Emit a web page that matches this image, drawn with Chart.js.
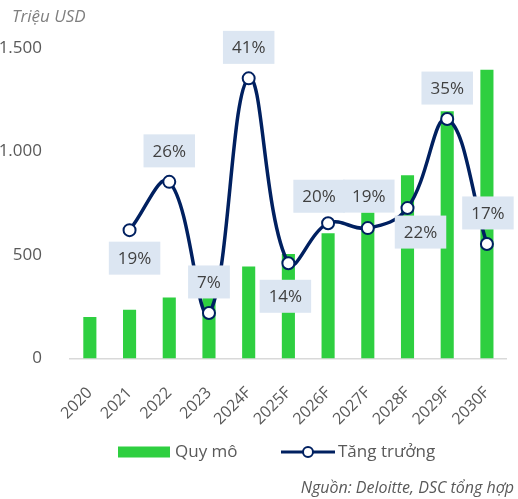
<!DOCTYPE html>
<html>
<head>
<meta charset="utf-8">
<script src="https://cdn.jsdelivr.net/npm/chart.js@4.4.1/dist/chart.umd.min.js"></script>
<style>
  html, body { margin: 0; padding: 0; background: #fff; }
  #wrap { position: relative; width: 518px; height: 499px; }
</style>
</head>
<body>
<div id="wrap"><canvas id="chart"></canvas></div>
<script>
// data
var years = ['2020', '2021', '2022', '2023', '2024F', '2025F', '2026F', '2027F', '2028F', '2029F', '2030F'];
var quyMo = [200, 235, 295, 305, 445, 505, 605, 705, 885, 1195, 1395];
var tangTruong = [null, 18.6, 25.6, 6.6, 40.6, 13.8, 19.6, 18.9, 21.8, 34.7, 16.6];
var yTicks = [0, 500, 1000, 1500];

// where each growth label box sits, relative to its point
var labelOffset = [null, [5, 28], [0, -31], [0, -31], [0, -31], [-3, 33], [-9, -27], [1, -32], [13, 24], [0, -31], [1, -31]];

var GREEN = '#2ecf40';
var NAVY = '#002060';
var FONT = "'Open Sans', sans-serif";

function fmt(v) {
  return String(v).replace(/\B(?=(\d{3})+(?!\d))/g, '.');
}

var extras = {
  id: 'extras',
  afterDatasetsDraw: function (chart) {
    var ctx = chart.ctx;
    var meta = chart.getDatasetMeta(1);
    ctx.save();
    ctx.font = '17px ' + FONT;
    ctx.textAlign = 'center';
    ctx.textBaseline = 'middle';
    meta.data.forEach(function (pt, i) {
      if (tangTruong[i] == null) return;
      var txt = Math.round(tangTruong[i]) + '%';
      var w = ctx.measureText(txt).width + 18;
      var h = 33;
      var cx = pt.x + labelOffset[i][0];
      var cy = pt.y + labelOffset[i][1];
      ctx.fillStyle = '#dce6f2';
      ctx.fillRect(cx - w / 2, cy - h / 2, w, h);
      ctx.fillStyle = '#404040';
      ctx.fillText(txt, cx, cy + 1);
    });
    ctx.restore();
  },
  afterDraw: function (chart) {
    var ctx = chart.ctx;
    ctx.save();
    // unit
    ctx.font = 'italic 17px ' + FONT;
    ctx.fillStyle = '#7f7f7f';
    ctx.textAlign = 'left';
    ctx.textBaseline = 'middle';
    ctx.fillText('Triệu USD', 12, 17);

    // legend
    var ly = 452;
    ctx.fillStyle = GREEN;
    ctx.fillRect(118, ly - 5.5, 52, 11);
    ctx.strokeStyle = NAVY;
    ctx.lineWidth = 3;
    ctx.beginPath();
    ctx.moveTo(281, ly);
    ctx.lineTo(335, ly);
    ctx.stroke();
    ctx.beginPath();
    ctx.arc(308, ly, 5, 0, Math.PI * 2);
    ctx.fillStyle = '#fff';
    ctx.fill();
    ctx.lineWidth = 2;
    ctx.stroke();
    ctx.font = '17px ' + FONT;
    ctx.fillStyle = '#595959';
    ctx.fillText('Quy mô', 175, ly);
    ctx.fillText('Tăng trưởng', 338, ly);

    // source
    ctx.font = 'italic 16px ' + FONT;
    ctx.textAlign = 'right';
    ctx.fillText('Nguồn: Deloitte, DSC tổng hợp', 514, 488);
    ctx.restore();
  }
};

new Chart(document.getElementById('chart'), {
  type: 'bar',
  data: {
    labels: years,
    datasets: [{
      type: 'bar',
      label: 'Quy mô',
      data: quyMo,
      backgroundColor: GREEN,
      categoryPercentage: 1,
      barPercentage: 0.33,
      yAxisID: 'y',
      order: 1
    }, {
      type: 'line',
      label: 'Tăng trưởng',
      data: tangTruong,
      borderColor: NAVY,
      borderWidth: 3.5,
      tension: 0.4,
      pointRadius: 6,
      pointBorderWidth: 2,
      pointBackgroundColor: '#fff',
      pointBorderColor: NAVY,
      yAxisID: 'y1',
      clip: false,
      order: 0
    }]
  },
  options: {
    responsive: true,
    maintainAspectRatio: false,
    animation: false,
    layout: { padding: { top: 48, right: 11, bottom: 51, left: 0 } },
    plugins: {
      legend: { display: false },
      tooltip: { enabled: false }
    },
    scales: {
      x: {
        grid: { display: false },
        border: { display: true, color: '#d9d9d9', width: 1.5 },
        ticks: {
          color: '#595959',
          font: { family: FONT, size: 16 },
          minRotation: 45,
          maxRotation: 45,
          padding: 17
        },
        afterFit: function (s) { s.height = 89.5; }
      },
      y: {
        min: 0,
        max: 1500,
        grid: { display: false },
        border: { display: false },
        afterBuildTicks: function (s) {
          s.ticks = yTicks.map(function (v) { return { value: v }; });
        },
        ticks: {
          color: '#595959',
          font: { family: FONT, size: 17 },
          padding: 20,
          callback: function (v) { return fmt(v); }
        },
        afterFit: function (s) { s.width = 70; }
      },
      y1: {
        display: false,
        min: 0,
        max: 45
      }
    }
  },
  plugins: [extras]
});
</script>
</body>
</html>
